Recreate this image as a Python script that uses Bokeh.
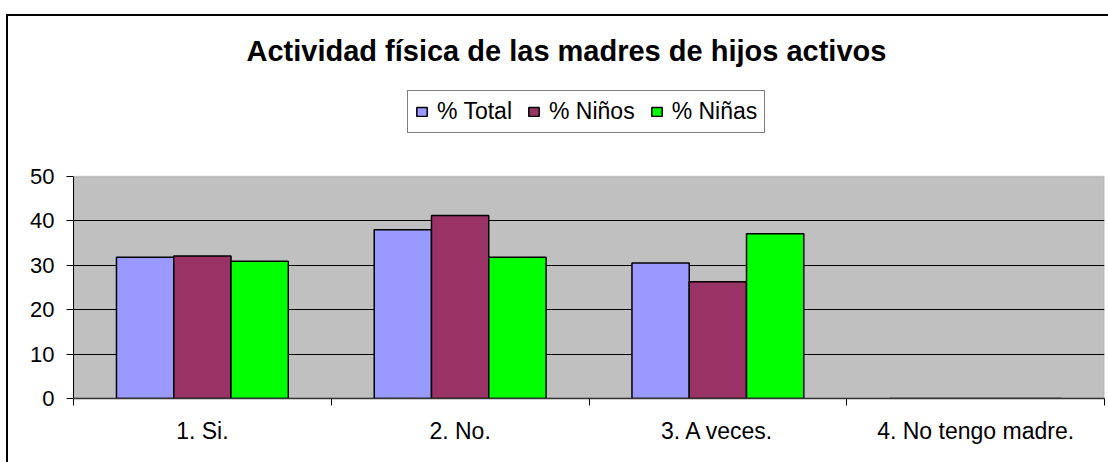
from bokeh.plotting import figure
from bokeh.models import (ColumnDataSource, Range1d, FixedTicker, Legend, LegendItem,
                          BoxAnnotation)
from bokeh.transform import dodge
from bokeh.embed import file_html
from bokeh.resources import INLINE

categories = ["1. Si.", "2. No.", "3. A veces.", "4. No tengo madre."]
pct_total = [31.8, 38.0, 30.5, 0.0]
pct_ninos = [32.1, 41.2, 26.3, 0.0]
pct_ninas = [30.9, 31.8, 37.1, 0.0]
series_names = ["% Total", "% Niños", "% Niñas"]
series_colors = ["#9999FF", "#993366", "#00FF00"]
y_ticks = [0, 10, 20, 30, 40, 50]

FONT = "Liberation Sans"

# layout (pixels)
W, H = 1108, 462
FRAME_LEFT, FRAME_RIGHT, FRAME_TOP, FRAME_BOTTOM = 73, 1104, 80, 398
PLOT_AREA_H = 222            # height of the grey value area (0..50)
frame_h = FRAME_BOTTOM - FRAME_TOP
y_max = y_ticks[-1] * frame_h / PLOT_AREA_H   # room above the value area for the legend

xs = [i + 0.5 for i in range(len(categories))]
source = ColumnDataSource(dict(x=xs, total=pct_total, ninos=pct_ninos, ninas=pct_ninas))

# outer chart frame (top and left edges visible) drawn as CSS background lines
frame_styles = {
    "background-image": "linear-gradient(#000,#000), linear-gradient(#000,#000)",
    "background-repeat": "no-repeat",
    "background-position": "6px 14px, 6px 14px",
    "background-size": "2px 100%, 100% 2px",
}

p = figure(width=W, height=H, output_backend="svg", toolbar_location=None,
           x_range=Range1d(0, len(categories)), y_range=Range1d(0, y_max),
           min_border_left=FRAME_LEFT, min_border_right=W - FRAME_RIGHT,
           min_border_top=FRAME_TOP, min_border_bottom=H - FRAME_BOTTOM,
           styles=frame_styles)

p.background_fill_alpha = 0
p.border_fill_alpha = 0
p.outline_line_color = None

# grey plot area for the value range
plot_area = BoxAnnotation(left=0, right=len(categories), bottom=y_ticks[0], top=y_ticks[-1],
                          fill_color="#C0C0C0", fill_alpha=1,
                          line_color="#808080", line_width=1.5, level="image")
p.add_layout(plot_area)

# bars
w = 0.2222
offsets = [-w, 0.0, w]
fields = ["total", "ninos", "ninas"]
renderers = []
for f, off, col in zip(fields, offsets, series_colors):
    r = p.vbar(x=dodge("x", off, range=p.x_range), top=f, bottom=0, width=w, source=source,
               fill_color=col, line_color="black", line_width=1.5)
    renderers.append(r)

# x axis: labels at category centres, ticks at category boundaries
p.xaxis.ticker = FixedTicker(ticks=xs, minor_ticks=list(range(len(categories) + 1)))
p.xaxis.major_label_overrides = {x: c for x, c in zip(xs, categories)}
p.xaxis.major_tick_out = 0
p.xaxis.major_tick_in = 0
p.xaxis.minor_tick_out = 7
p.xaxis.minor_tick_in = 0
p.xaxis.minor_tick_line_color = "black"
p.xaxis.axis_line_color = "#333333"
p.xaxis.axis_line_width = 1.5
p.xaxis.major_label_text_font = FONT
p.xaxis.major_label_text_font_size = "23px"
p.xaxis.major_label_text_color = "black"
p.xaxis.major_label_standoff = 12

# y axis (only over the value range)
p.yaxis.ticker = FixedTicker(ticks=y_ticks)
p.yaxis.bounds = (y_ticks[0], y_ticks[-1])
p.yaxis.major_tick_out = 7
p.yaxis.major_tick_in = 0
p.yaxis.minor_tick_line_color = None
p.yaxis.major_tick_line_color = "black"
p.yaxis.axis_line_color = "black"
p.yaxis.major_label_text_font = FONT
p.yaxis.major_label_text_font_size = "22px"
p.yaxis.major_label_text_color = "black"
p.yaxis.major_label_standoff = 12

# grid
p.xgrid.grid_line_color = None
p.ygrid.ticker = FixedTicker(ticks=y_ticks[1:-1])
p.ygrid.grid_line_color = "black"
p.ygrid.grid_line_width = 1

# legend (above the grey area, inside the frame)
legend = Legend(items=[LegendItem(label=n, renderers=[r]) for n, r in zip(series_names, renderers)],
                orientation="horizontal", location=(334, FRAME_BOTTOM - 133))
legend.border_line_color = "black"
legend.border_line_width = 1
legend.background_fill_color = "white"
legend.background_fill_alpha = 1
legend.label_text_font = FONT
legend.label_text_font_size = "23px"
legend.label_text_color = "black"
legend.glyph_width = 13
legend.glyph_height = 11
legend.label_standoff = 9
legend.spacing = 15
legend.padding = 7
legend.margin = 0
p.add_layout(legend, "center")

# title
p.title.text = "Actividad física de las madres de hijos activos"
p.title.text_font = FONT
p.title.text_font_size = "29px"
p.title.text_font_style = "bold"
p.title.align = "left"
p.title.offset = 173
p.title.standoff = 28
p.title.text_color = "black"

open("out.html", "w").write(file_html(p, INLINE))
